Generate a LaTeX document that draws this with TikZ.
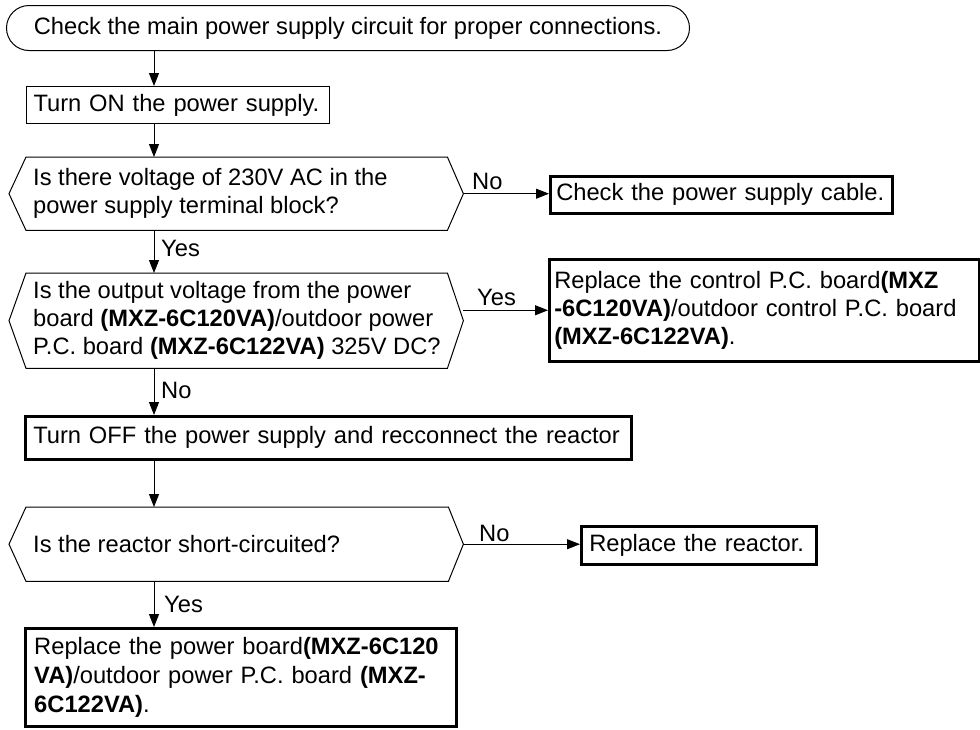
\documentclass[tikz,border=0pt]{standalone}
\usepackage{fontspec}
\setmainfont{Liberation Sans}
\usetikzlibrary{arrows.meta,calc}
\begin{document}
\begin{tikzpicture}[x=1pt,y=-1pt,
  every node/.style={font=\fontsize{23.7}{28}\selectfont},
  thinbox/.style={draw, line width=1pt, inner ysep=0pt, align=left, anchor=north west},
  thickbox/.style={draw, line width=2.5pt, inner ysep=0pt, align=left, anchor=north west},
  hexbody/.style={inner sep=0pt, anchor=north west},
  hextext/.style={inner sep=0pt, anchor=west, align=left},
  lbl/.style={anchor=base west, inner sep=0pt},
  arr/.style={line width=1pt, -{Triangle[width=10pt,length=13pt]}},
  hexline/.style={line width=1pt, line join=miter}]
\useasboundingbox (0,0) rectangle (980,729);
\fill[white] (0,0) rectangle (980,729);
\coordinate (ax) at (154,0);

% start terminal
\node[draw, line width=1pt, rounded corners=22.5pt, minimum width=683pt, minimum height=45pt,
      inner sep=0pt, anchor=north west] (t) at (6,5)
  {Check the main power supply circuit for proper connections.};

% Turn ON
\node[thinbox, minimum width=303pt, minimum height=37pt, inner xsep=7pt, text width=289pt] (on) at (26,86)
  {Turn ON the power supply.};

% decision 1
\node[hexbody, minimum width=421pt, minimum height=73pt] (h1) at (26,157) {};
\node[hextext] (h1t) at (33,193.5) {Is there voltage of 230V AC in the\\power supply terminal block?};
\draw[hexline] (h1.north west) -- (h1.north east) -- ($(h1.east)+(16,0)$) -- (h1.south east)
  -- (h1.south west) -- ($(h1.west)+(-17,0)$) -- cycle;
\coordinate (h1p) at ($(h1.east)+(16,0)$);

\node[thickbox, minimum width=342pt, minimum height=37pt, inner xsep=6pt, text width=330pt] (chk) at (549,175)
  {Check the power supply cable.};

% decision 2
\node[hexbody, minimum width=421pt, minimum height=95pt] (h2) at (26,273) {};
\node[hextext] (h2t) at (33,320.5) {Is the output voltage from the power\\board \textbf{(MXZ-6C120VA)}/outdoor power\\P.C. board \textbf{(MXZ-6C122VA)} 325V DC?};
\draw[hexline] (h2.north west) -- (h2.north east) -- ($(h2.east)+(16,0)$) -- (h2.south east)
  -- (h2.south west) -- ($(h2.west)+(-17,0)$) -- cycle;
\coordinate (h2p) at ($(h2.east)+(16,0)$);

\node[thickbox, minimum width=430pt, minimum height=102pt, inner xsep=5pt, text width=420pt] (ctl) at (548,258)
  {Replace the control P.C. board\textbf{(MXZ}\\\textbf{-6C120VA)}/outdoor control P.C. board\\\textbf{(MXZ-6C122VA)}.};

% Turn OFF
\node[thickbox, minimum width=606pt, minimum height=43pt, inner xsep=8pt, text width=590pt] (off) at (24,415)
  {Turn OFF the power supply and recconnect the reactor};

% decision 3
\node[hexbody, minimum width=422pt, minimum height=74pt] (h3) at (26,507) {};
\node[hextext] (h3t) at (33,544) {Is the reactor short-circuited?};
\draw[hexline] (h3.north west) -- (h3.north east) -- ($(h3.east)+(15,0)$) -- (h3.south east)
  -- (h3.south west) -- ($(h3.west)+(-17,0)$) -- cycle;
\coordinate (h3p) at ($(h3.east)+(15,0)$);

\node[thickbox, minimum width=235pt, minimum height=38pt, inner xsep=8pt, text width=219pt] (rea) at (580,525)
  {Replace the reactor.};

\node[thickbox, minimum width=431pt, minimum height=98pt, inner xsep=9pt, text width=413pt,
      font=\fontsize{23.7}{29}\selectfont] (last) at (24,627)
  {Replace the power board\textbf{(MXZ-6C120}\\\textbf{VA)}/outdoor power P.C. board \textbf{(MXZ-}\\\textbf{6C122VA)}.};

% connectors
\draw[arr] (t.south -| ax) -- (on.north -| ax);
\draw[arr] (on.south -| ax) -- (h1.north -| ax);
\draw[arr] (h1p) -- (h1p -| chk.west);
\draw[arr] (h1.south -| ax) -- (h2.north -| ax);
\draw[arr] (h2p |- ctl.west) -- (ctl.west);
\draw[arr] (h2.south -| ax) -- (off.north -| ax);
\draw[arr] (off.south -| ax) -- (h3.north -| ax);
\draw[arr] (h3p) -- (h3p -| rea.west);
\draw[arr] (h3.south -| ax) -- (last.north -| ax);

% labels
\node[lbl] (l1) at (472,189) {No};
\node[lbl] (l2) at (161,256) {Yes};
\node[lbl] (l3) at (477,305) {Yes};
\node[lbl] (l4) at (161,398) {No};
\node[lbl] (l5) at (479,541) {No};
\node[lbl] (l6) at (164,612) {Yes};
\end{tikzpicture}
\end{document}
